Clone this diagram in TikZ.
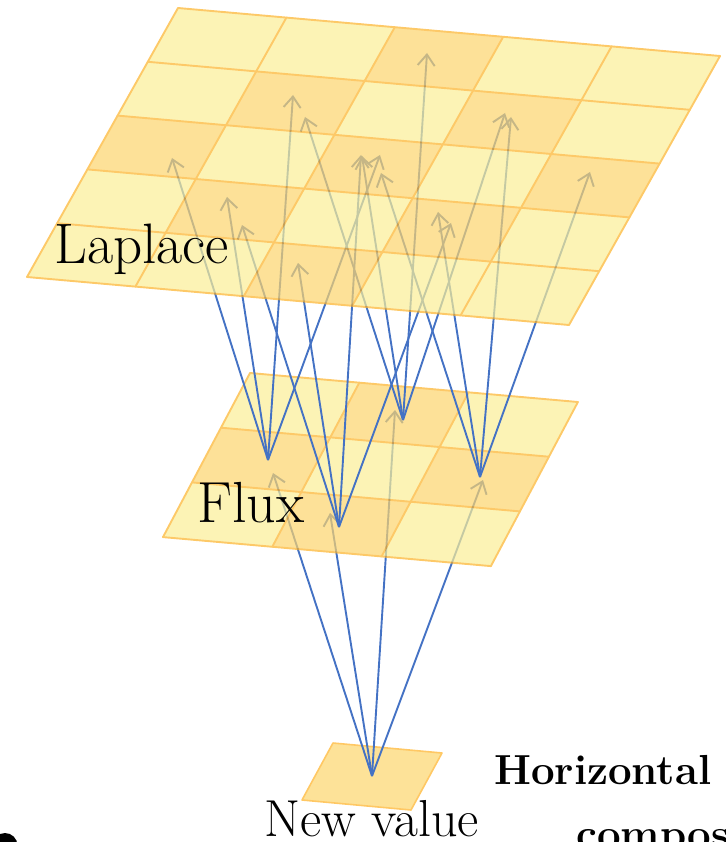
\documentclass[tikz,border=0pt]{standalone}
\usepackage{fontspec}
\usetikzlibrary{arrows.meta}
\definecolor{cellL}{RGB}{251,238,150}
\definecolor{cellD}{RGB}{252,212,108}
\definecolor{gridO}{RGB}{252,178,40}
\definecolor{nvfill}{RGB}{253,226,152}
\definecolor{nvline}{RGB}{255,200,100}
\definecolor{arrblue}{RGB}{68,114,196}
\tikzset{
  conn/.style={draw=arrblue, line width=1.9pt, -{Straight Barb[length=11pt,width=17pt,line width=1.9pt]}},
  lbl/.style={inner sep=0pt, anchor=base west, text=black},
  plane/.style={transparency group, opacity=0.7},
  gline/.style={draw=gridO, line width=1.9pt, line cap=round},
}
\begin{document}
\begin{tikzpicture}[x=1pt,y=-1pt]
\useasboundingbox (0,0) rectangle (725,842);

% ---------- New value cell ----------
\fill[nvfill, draw=nvline, line width=1.6pt, line join=round]
  (333,743) -- (442,753) -- (411,810) -- (302,800) -- cycle;
\coordinate (NV) at (372,776);

% flux-level targets
\coordinate (fA) at (273,473);
\coordinate (fB) at (330,513);
\coordinate (fC) at (395,410);
\coordinate (fD) at (483,480);
\foreach \t in {fA,fB,fC,fD} \draw[conn] (NV) -- (\t);

% ---------- Flux plane ----------
\begin{scope}[plane]
 \begin{scope}[shift={(250pt,-373pt)}, x={(109.3pt,-9.67pt)}, y={(-29pt,-54.7pt)}]
   \fill[cellL] (0,0) -- (3,0) -- (3,3) -- (0,3) -- cycle;
   \foreach \c/\r in {1/0,0/1,2/1,1/2}
     \fill[cellD] (\c,\r) -- ++(1,0) -- ++(0,1) -- ++(-1,0) -- cycle;
   \foreach \i in {0,...,3} {
     \draw[gline] (\i,0) -- (\i,3);
     \draw[gline] (0,\i) -- (3,\i);
   }
 \end{scope}
\end{scope}
\node[lbl, font=\fontsize{58}{58}\selectfont] (flux) at (197,522) {Flux};

% flux sources
\coordinate (A) at (268,460);
\coordinate (B) at (339,527);
\coordinate (C) at (403,420);
\coordinate (D) at (480,477);

% laplace targets
\coordinate (lA1) at (293,95);
\coordinate (lA2) at (172,158);
\coordinate (lA3) at (380,155);
\coordinate (lA4) at (227,197);
\coordinate (lB1) at (361,155);
\coordinate (lB2) at (242,225);
\coordinate (lB3) at (451,223);
\coordinate (lB4) at (298,263);
\coordinate (lC1) at (427,53);
\coordinate (lC2) at (305,117);
\coordinate (lC3) at (505,113);
\coordinate (lC4) at (362,156);
\coordinate (lD1) at (511,117);
\coordinate (lD2) at (381,173);
\coordinate (lD3) at (590,172);
\coordinate (lD4) at (438,212);

\foreach \s in {A,B,C,D}
  \foreach \k in {1,2,3,4}
    \draw[conn] (\s) -- (l\s\k);

% ---------- Laplace plane ----------
\begin{scope}[plane]
 \begin{scope}[shift={(178pt,-8pt)}, x={(108.4pt,-9.6pt)}, y={(-30.2pt,-53.8pt)}]
   \fill[cellL] (0,0) -- (5,0) -- (5,5) -- (0,5) -- cycle;
   \foreach \c/\r in {2/0,1/1,3/1,0/2,2/2,4/2,1/3,3/3,2/4}
     \fill[cellD] (\c,\r) -- ++(1,0) -- ++(0,1) -- ++(-1,0) -- cycle;
   \foreach \i in {0,...,5} {
     \draw[gline] (\i,0) -- (\i,5);
     \draw[gline] (0,\i) -- (5,\i);
   }
 \end{scope}
\end{scope}
\node[lbl, font=\fontsize{57}{57}\selectfont] (laplace) at (54,263) {Laplace};

% ---------- other texts ----------
\node[lbl, font=\fontsize{52}{52}\selectfont] (newval) at (264,836) {New value};
\node[lbl, font=\bfseries\fontsize{42}{42}\selectfont] (horiz) at (494,784) {Horizontal};
\node[lbl, font=\bfseries\fontsize{42}{42}\selectfont] (compos) at (576,848) {compos};

% cut-off blob at bottom left
\fill[black] (5,845.5) circle[radius=12.5pt];
\end{tikzpicture}
\end{document}
